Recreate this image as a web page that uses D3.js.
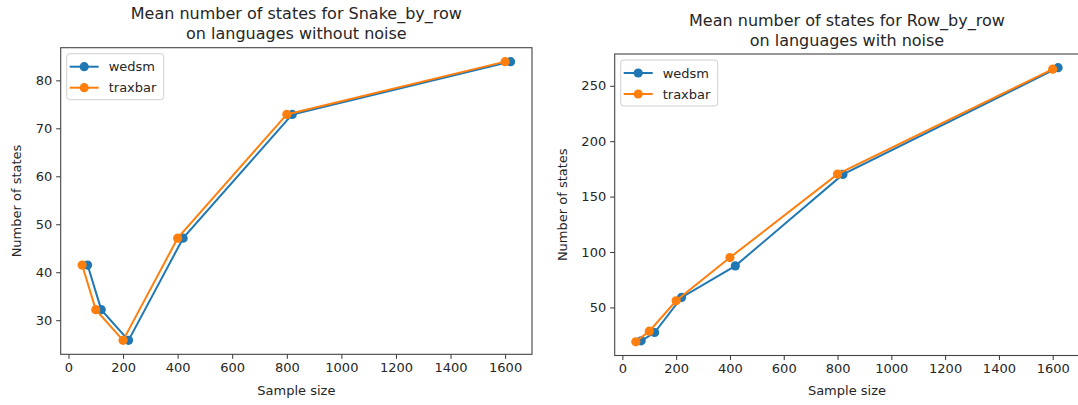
<!DOCTYPE html>
<html>
<head>
<meta charset="utf-8">
<script src="https://cdn.jsdelivr.net/npm/d3@7"></script>
<style>
  body { margin: 0; background: #fff; }
  svg { font-family: "DejaVu Sans", sans-serif; }
</style>
</head>
<body>
<div id="chart"></div>
<script>
// data
var seriesNames = ["wedsm", "traxbar"];
var colors = ["#1f77b4", "#ff7f0e"];

var leftWedsmX = [70, 120, 220, 420, 820, 1620];
var leftWedsmY = [41.5, 32.2, 25.8, 47.1, 72.9, 83.9];
var leftTraxX = [50, 100, 200, 400, 800, 1600];
var leftTraxY = [41.5, 32.2, 25.8, 47.1, 72.9, 83.9];

var rightWedsmX = [70, 120, 220, 420, 820, 1620];
var rightWedsmY = [19.9, 27.4, 59, 87.5, 170, 266.3];
var rightTraxX = [50, 100, 200, 400, 800, 1600];
var rightTraxY = [19, 28.6, 56, 95, 170.3, 265];

var xTicks = [0, 200, 400, 600, 800, 1000, 1200, 1400, 1600];
var leftYTicks = [30, 40, 50, 60, 70, 80];
var rightYTicks = [50, 100, 150, 200, 250];

var width = 1078, height = 405;
var textColor = "#262626";

var svg = d3.select("#chart").append("svg")
  .attr("width", width)
  .attr("height", height);

function padded(vals) {
  var lo = d3.min(vals), hi = d3.max(vals), m = (hi - lo) * 0.05;
  return [lo - m, hi + m];
}

function drawPanel(p) {
  var x = d3.scaleLinear()
    .domain(padded(p.series[0].x.concat(p.series[1].x)))
    .range([p.left, p.right]);
  var y = d3.scaleLinear()
    .domain(padded(p.series[0].y.concat(p.series[1].y)))
    .range([p.bottom, p.top]);

  var g = svg.append("g");

  // clip so the right panel gets cut at the page edge like the reference
  // x axis
  var xAxis = g.append("g")
    .attr("transform", "translate(0," + p.bottom + ")")
    .call(d3.axisBottom(x).tickValues(xTicks).tickSize(4.5).tickPadding(4).tickFormat(d3.format("d")));
  var yAxis = g.append("g")
    .attr("transform", "translate(" + p.left + ",0)")
    .call(d3.axisLeft(y).tickValues(p.yTicks).tickSize(4.5).tickPadding(4).tickFormat(d3.format("d")));
  [xAxis, yAxis].forEach(function(a) {
    a.select(".domain").remove();
    a.selectAll(".tick line").attr("stroke", "#333").attr("stroke-width", 1);
    a.selectAll(".tick text")
      .attr("fill", textColor)
      .attr("font-size", "13px")
      .attr("font-family", "DejaVu Sans, sans-serif");
  });

  // frame
  g.append("rect")
    .attr("x", p.left)
    .attr("y", p.top)
    .attr("width", p.right - p.left)
    .attr("height", p.bottom - p.top)
    .attr("fill", "none")
    .attr("stroke", "#444")
    .attr("stroke-width", 1.1);

  var line = d3.line()
    .x(function(d) { return x(d[0]); })
    .y(function(d) { return y(d[1]); });

  p.series.forEach(function(s, i) {
    var pts = d3.zip(s.x, s.y);
    g.append("path")
      .datum(pts)
      .attr("d", line)
      .attr("fill", "none")
      .attr("stroke", colors[i])
      .attr("stroke-width", 2);
    g.selectAll(null)
      .data(pts)
      .enter()
      .append("circle")
      .attr("cx", function(d) { return x(d[0]); })
      .attr("cy", function(d) { return y(d[1]); })
      .attr("r", 4.6)
      .attr("fill", colors[i]);
  });

  // title
  var cx = (p.left + p.right) / 2;
  p.title.forEach(function(t, i) {
    g.append("text")
      .attr("x", cx)
      .attr("y", p.titleY + i * 20)
      .attr("text-anchor", "middle")
      .attr("font-size", "16px")
      .attr("fill", textColor)
      .text(t);
  });

  g.append("text")
    .attr("x", cx)
    .attr("y", 395)
    .attr("text-anchor", "middle")
    .attr("font-size", "13px")
    .attr("fill", textColor)
    .text("Sample size");

  g.append("text")
    .attr("transform", "translate(" + p.yLabelX + "," + ((p.top + p.bottom) / 2) + ") rotate(-90)")
    .attr("text-anchor", "middle")
    .attr("font-size", "13px")
    .attr("fill", textColor)
    .text("Number of states");

  // legend
  var lg = g.append("g").attr("transform", "translate(" + (p.left + 6) + "," + (p.top + 6) + ")");
  lg.append("rect")
    .attr("width", 97)
    .attr("height", 46)
    .attr("rx", 3)
    .attr("fill", "#fff")
    .attr("fill-opacity", 0.8)
    .attr("stroke", "#d0d0d0");
  seriesNames.forEach(function(name, i) {
    var ly = 13 + i * 21;
    lg.append("line")
      .attr("x1", 3).attr("x2", 32)
      .attr("y1", ly).attr("y2", ly)
      .attr("stroke", colors[i])
      .attr("stroke-width", 2);
    lg.append("circle")
      .attr("cx", 17.5).attr("cy", ly)
      .attr("r", 4.6)
      .attr("fill", colors[i]);
    lg.append("text")
      .attr("x", 42)
      .attr("y", ly + 4.5)
      .attr("font-size", "13px")
      .attr("fill", textColor)
      .text(name);
  });
}

drawPanel({
  left: 60.7, right: 532, top: 47.7, bottom: 354.3,
  yTicks: leftYTicks,
  yLabelX: 21,
  titleY: 19,
  title: ["Mean number of states for Snake_by_row", "on languages without noise"],
  series: [{ x: leftWedsmX, y: leftWedsmY }, { x: leftTraxX, y: leftTraxY }]
});

drawPanel({
  left: 614.7, right: 1079.2, top: 54, bottom: 355.5,
  yTicks: rightYTicks,
  yLabelX: 567,
  titleY: 25.5,
  title: ["Mean number of states for Row_by_row", "on languages with noise"],
  series: [{ x: rightWedsmX, y: rightWedsmY }, { x: rightTraxX, y: rightTraxY }]
});
</script>
</body>
</html>
